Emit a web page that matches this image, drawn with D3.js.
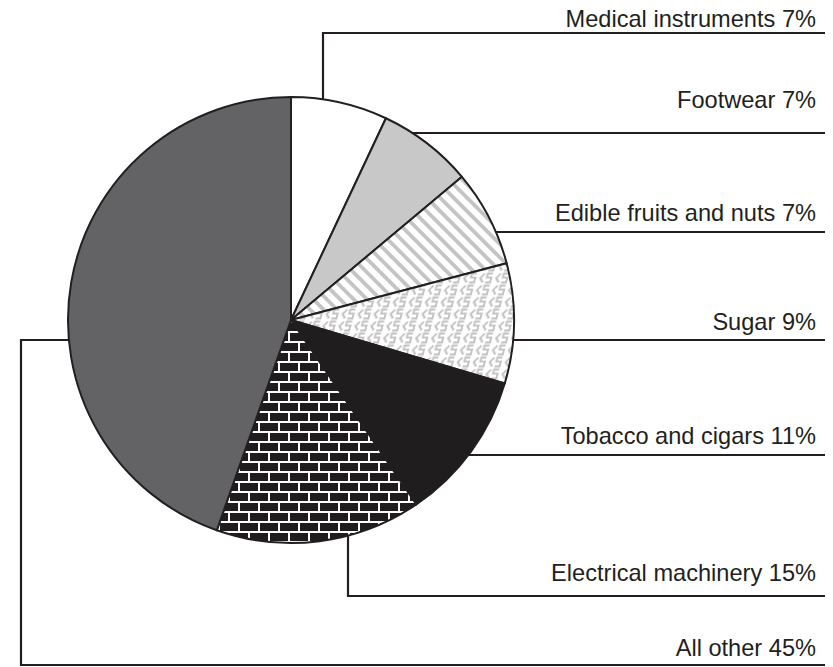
<!DOCTYPE html>
<html>
<head>
<meta charset="utf-8">
<script src="https://cdn.jsdelivr.net/npm/d3@7"></script>
<style>
  html, body { margin: 0; padding: 0; background: #fff; }
  svg { display: block; }
</style>
</head>
<body>
<svg id="chart" width="833" height="667"></svg>
<script>
// ---- data ----
const categories = ["Medical instruments", "Footwear", "Edible fruits and nuts", "Sugar",
                    "Tobacco and cigars", "Electrical machinery", "All other"];
const values = [7.0, 6.9, 7.0, 8.7, 10.9, 14.9, 44.6];
const labels = categories.map((c, i) => `${c} ${Math.round(values[i])}%`);

// ---- layout ----
const W = 833, H = 667;
const cx = 291, cy = 320, R = 223;
const lineRight = 825, textRight = 816;
const leaderKind = ["up", "right", "right", "right", "right", "down", "left"];
const leaderX = [323, null, null, null, null, 348, 21];
const lineY = [33, 133, 232, 340, 455, 596, 665];
const textY = [27, 108, 221, 330, 444, 581, 656];
const ink = "#231f20";

const svg = d3.select("#chart");
const defs = svg.append("defs");

// stripes
const stripe = defs.append("pattern").attr("id", "stripes")
  .attr("patternUnits", "userSpaceOnUse").attr("width", 9.5).attr("height", 20)
  .attr("patternTransform", "rotate(-45)");
stripe.append("rect").attr("width", 9.5).attr("height", 20).attr("fill", "#fff");
stripe.append("rect").attr("x", 0).attr("width", 3.8).attr("height", 20).attr("fill", "#c4c4c4");

// sugar glyph pattern
const glyph = defs.append("pattern").attr("id", "glyphs")
  .attr("patternUnits", "userSpaceOnUse").attr("width", 16).attr("height", 12)
  .attr("patternTransform", "skewX(-15)");
glyph.append("rect").attr("width", 16).attr("height", 12).attr("fill", "#fff");
glyph.append("path").attr("d", "M5.5,1.5 L2,6 L5.5,10.5")
  .attr("fill", "none").attr("stroke", "#c2c2c2").attr("stroke-width", 2);
glyph.append("path").attr("d", "M13.5,1.5 L8.5,1.5 L8.5,5.5 L13,5.5 L13,10.5 L8,10.5")
  .attr("fill", "none").attr("stroke", "#c2c2c2").attr("stroke-width", 2);

// bricks
const brick = defs.append("pattern").attr("id", "bricks")
  .attr("patternUnits", "userSpaceOnUse").attr("width", 40).attr("height", 20)
  .attr("x", cx - 3).attr("y", cy + 2);
brick.append("rect").attr("width", 40).attr("height", 20).attr("fill", "#fff");
[[1, 1], [21, 1], [-9, 11], [11, 11], [31, 11]].forEach(([x, y]) => {
  brick.append("rect").attr("x", x).attr("y", y).attr("width", 18).attr("height", 8).attr("fill", "#1f1d1e");
});

const fills = ["#ffffff", "#c8c8c8", "url(#stripes)", "url(#glyphs)", "#1f1d1e", "url(#bricks)", "#636365"];

const pie = d3.pie().sort(null).value(d => d).startAngle(0).endAngle(2 * Math.PI);
const arc = d3.arc().innerRadius(0).outerRadius(R);
const arcs = pie(values);

const g = svg.append("g").attr("transform", `translate(${cx},${cy})`);
g.selectAll("path.slice").data(arcs).join("path")
  .attr("class", "slice")
  .attr("d", arc)
  .attr("fill", (d, i) => fills[i])
  .attr("stroke", ink)
  .attr("stroke-width", 2)
  .attr("stroke-linejoin", "round");

// ---- leaders ----
function leaderPath(i) {
  const k = leaderKind[i], y = lineY[i];
  if (k === "right") {
    const dx = Math.sqrt(R * R - (y - cy) * (y - cy));
    return `M${cx + dx},${y} L${lineRight},${y}`;
  }
  if (k === "up" || k === "down") {
    const x = leaderX[i];
    const dy = Math.sqrt(R * R - (x - cx) * (x - cx));
    const y0 = k === "up" ? cy - dy : cy + dy;
    return `M${x},${y0} L${x},${y} L${lineRight},${y}`;
  }
  const ay = lineY[3];
  const dx = Math.sqrt(R * R - (ay - cy) * (ay - cy));
  const x = leaderX[i];
  return `M${cx - dx},${ay} L${x},${ay} L${x},${y} L${lineRight},${y}`;
}

svg.append("g").selectAll("path").data(categories).join("path")
  .attr("d", (d, i) => leaderPath(i))
  .attr("fill", "none")
  .attr("stroke", ink)
  .attr("stroke-width", 2.2);

svg.append("g").selectAll("text").data(labels).join("text")
  .attr("x", textRight)
  .attr("y", (d, i) => textY[i])
  .attr("text-anchor", "end")
  .attr("font-family", "'Liberation Sans', Arial, Helvetica, sans-serif")
  .attr("font-size", 23.6)
  .attr("fill", ink)
  .text(d => d);
</script>
</body>
</html>
